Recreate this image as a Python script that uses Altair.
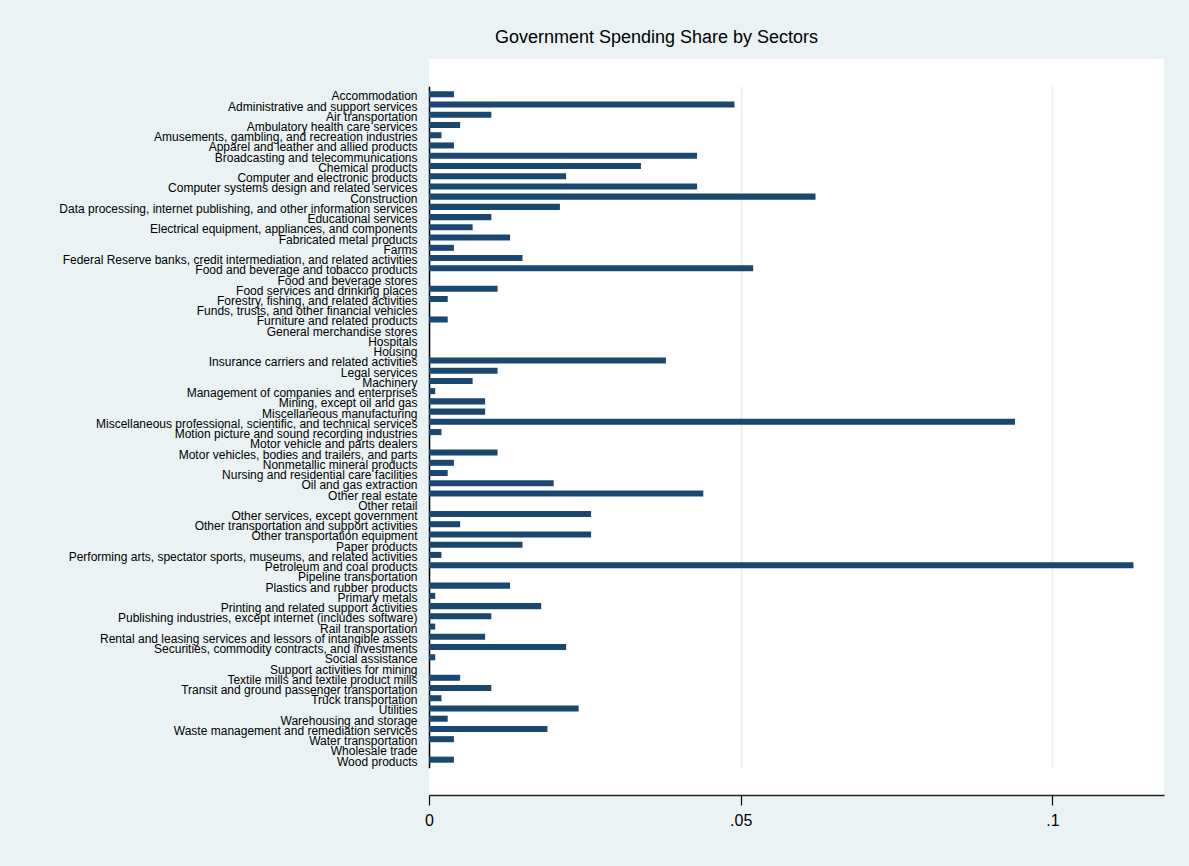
import altair as alt
import pandas as pd

sectors = [
    "Accommodation",
    "Administrative and support services",
    "Air transportation",
    "Ambulatory health care services",
    "Amusements, gambling, and recreation industries",
    "Apparel and leather and allied products",
    "Broadcasting and telecommunications",
    "Chemical products",
    "Computer and electronic products",
    "Computer systems design and related services",
    "Construction",
    "Data processing, internet publishing, and other information services",
    "Educational services",
    "Electrical equipment, appliances, and components",
    "Fabricated metal products",
    "Farms",
    "Federal Reserve banks, credit intermediation, and related activities",
    "Food and beverage and tobacco products",
    "Food and beverage stores",
    "Food services and drinking places",
    "Forestry, fishing, and related activities",
    "Funds, trusts, and other financial vehicles",
    "Furniture and related products",
    "General merchandise stores",
    "Hospitals",
    "Housing",
    "Insurance carriers and related activities",
    "Legal services",
    "Machinery",
    "Management of companies and enterprises",
    "Mining, except oil and gas",
    "Miscellaneous manufacturing",
    "Miscellaneous professional, scientific, and technical services",
    "Motion picture and sound recording industries",
    "Motor vehicle and parts dealers",
    "Motor vehicles, bodies and trailers, and parts",
    "Nonmetallic mineral products",
    "Nursing and residential care facilities",
    "Oil and gas extraction",
    "Other real estate",
    "Other retail",
    "Other services, except government",
    "Other transportation and support activities",
    "Other transportation equipment",
    "Paper products",
    "Performing arts, spectator sports, museums, and related activities",
    "Petroleum and coal products",
    "Pipeline transportation",
    "Plastics and rubber products",
    "Primary metals",
    "Printing and related support activities",
    "Publishing industries, except internet (includes software)",
    "Rail transportation",
    "Rental and leasing services and lessors of intangible assets",
    "Securities, commodity contracts, and investments",
    "Social assistance",
    "Support activities for mining",
    "Textile mills and textile product mills",
    "Transit and ground passenger transportation",
    "Truck transportation",
    "Utilities",
    "Warehousing and storage",
    "Waste management and remediation services",
    "Water transportation",
    "Wholesale trade",
    "Wood products",
]

shares = [
    0.004, 0.049, 0.010, 0.005, 0.002, 0.004, 0.043, 0.034, 0.022, 0.043,
    0.062, 0.021, 0.010, 0.007, 0.013, 0.004, 0.015, 0.052, 0.000, 0.011,
    0.003, 0.000, 0.003, 0.000, 0.000, 0.000, 0.038, 0.011, 0.007, 0.001,
    0.009, 0.009, 0.094, 0.002, 0.000, 0.011, 0.004, 0.003, 0.020, 0.044,
    0.000, 0.026, 0.005, 0.026, 0.015, 0.002, 0.113, 0.000, 0.013, 0.001,
    0.018, 0.010, 0.001, 0.009, 0.022, 0.001, 0.000, 0.005, 0.010, 0.002,
    0.024, 0.003, 0.019, 0.004, 0.000, 0.004,
]

x_ticks = [0, 0.05, 0.1]

df = pd.DataFrame({"sector": sectors, "share": shares})

FONT = "Liberation Sans, Arial, Helvetica, sans-serif"
BG = "#eaf2f3"

chart = (
    alt.Chart(df)
    .mark_bar(color="#1a476f")
    .encode(
        x=alt.X(
            "share:Q",
            scale=alt.Scale(domain=[0, 0.1179], nice=False, zero=True),
            axis=alt.Axis(
                title=None,
                values=x_ticks,
                labelExpr="datum.value == 0 ? '0' : replace(format(datum.value, '.2~f'), '0.', '.')",
                labelFontSize=16,
                labelFont=FONT,
                labelColor="#000000",
                labelPadding=7,
                tickSize=10,
                tickColor="#000000",
                tickWidth=1.2,
                domainColor="#222222",
                domainWidth=1.5,
                grid=True,
                gridColor=BG,
                gridWidth=2,
                labelFlush=False,
            ),
        ),
        y=alt.Y(
            "sector:N",
            sort=sectors,
            scale=alt.Scale(paddingInner=0.41, paddingOuter=0.5, range=[27.13, 708.8]),
            axis=alt.Axis(
                title=None,
                ticks=False,
                tickSize=0,
                labelFontSize=12,
                labelFont=FONT,
                labelColor="#000000",
                labelPadding=12,
                labelOffset=2,
                labelLimit=0,
                labelOverlap=False,
                domainColor="#000000",
                domainWidth=1.5,
                grid=False,
            ),
        ),
    )
    .properties(
        width=735,
        height=736,
        title=alt.TitleParams(
            "Government Spending Share by Sectors",
            font=FONT,
            fontSize=18,
            fontWeight="normal",
            color="#000000",
            anchor="middle",
            frame="group",
            dx=-140,
            offset=12,
        ),
        autosize=alt.AutoSizeParams(type="none"),
        padding={"left": 429, "top": 59, "right": 25, "bottom": 71},
        background=BG,
    )
    .configure_view(fill="#ffffff", stroke=None)
)

chart.save("out.html", embed_options={"renderer": "svg", "actions": False})
